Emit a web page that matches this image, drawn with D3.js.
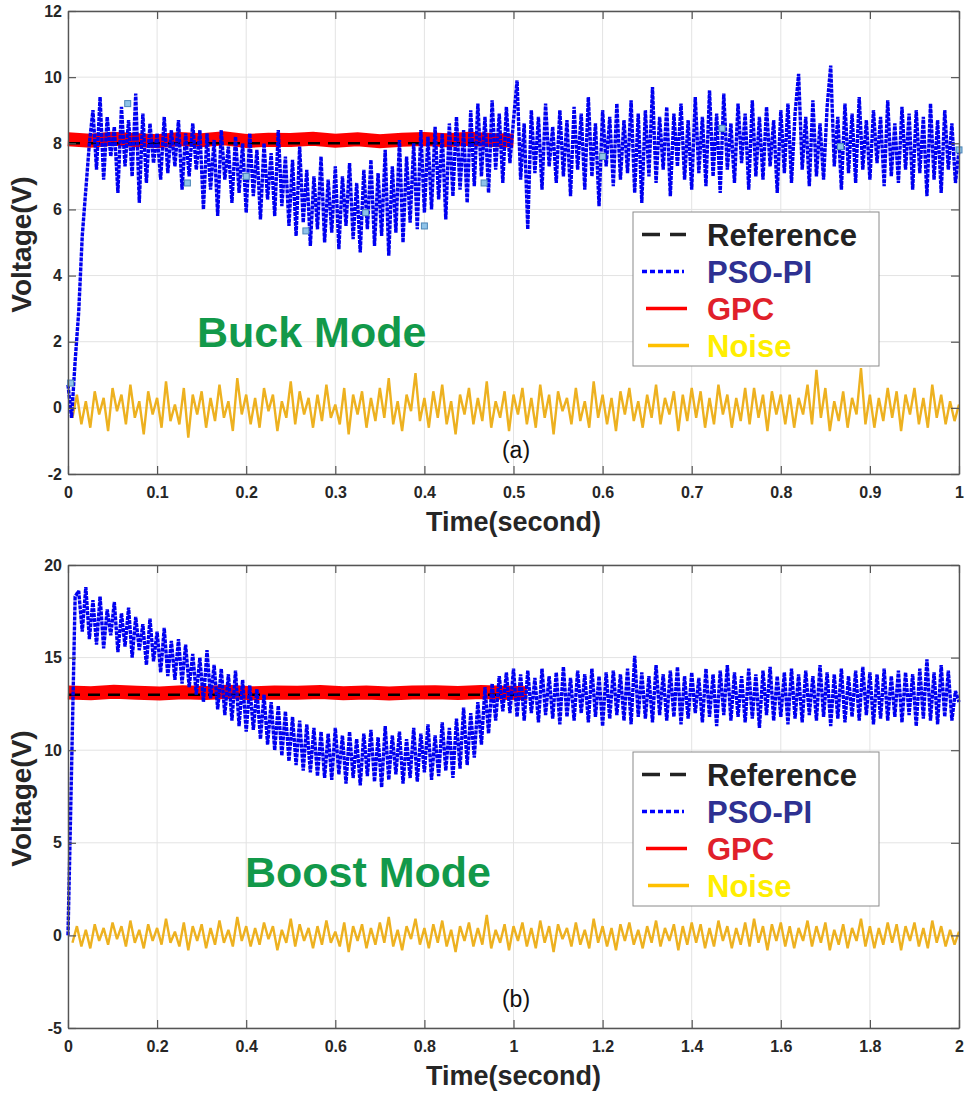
<!DOCTYPE html>
<html>
<head>
<meta charset="utf-8">
<script src="https://cdn.jsdelivr.net/npm/d3@7"></script>
<style>
  body { margin: 0; background: #fff; }
  svg text { font-family: "Liberation Sans", Arial, sans-serif; }
</style>
</head>
<body>
<svg id="chart" width="964" height="1098"></svg>
<script>
// ---------- data ----------
const legendLabels = ['Reference', 'PSO-PI', 'GPC', 'Noise'];

// (a) buck mode, 0..1 s
const xTicksA = [0, 0.1, 0.2, 0.3, 0.4, 0.5, 0.6, 0.7, 0.8, 0.9, 1];
const yTicksA = [-2, 0, 2, 4, 6, 8, 10, 12];
const refValueA = 8;
const refSpanA = [0, 0.47];
const gpcSpanA = [0, 0.5];
const gpcA = [8.12, 8.08, 8.14, 8.1, 8.06, 8.13, 8.09, 8.15, 8.07, 8.11, 8.1, 8.14, 8.08, 8.12, 8.06, 8.11, 8.13, 8.09, 8.14, 8.1, 8.08];
const psoSpanA = [0, 1];
const psoA = [
  0.7, -0.3, 1.4, 2.9, 5.2, 6.6, 8.0,
  9.0, 7.2, 9.4, 6.9, 8.8, 7.6, 8.5, 6.5, 9.1, 7.3, 8.7, 7.0, 9.5, 6.2, 8.9, 6.8, 8.6, 7.4, 8.3, 6.9,
  8.8, 7.1, 8.4, 7.3, 8.7, 6.6, 8.3, 7.0, 8.6, 7.2, 8.4,
  6.0, 8.3, 6.6, 8.1, 5.8, 8.4, 6.9, 7.9, 6.2, 8.2, 6.5, 8.0, 5.9, 8.3, 6.4, 7.8, 5.7, 8.0, 6.3, 7.7,
  5.8, 8.4, 6.1, 7.6, 5.5,
  7.5, 5.2, 7.9, 5.6, 7.2, 4.9, 7.0, 5.4, 7.6, 5.0, 6.9, 5.3, 7.3, 4.8, 7.0, 5.5, 7.4, 5.1, 6.8, 4.7,
  7.2, 5.4, 7.5, 4.9, 7.1, 5.2, 7.8, 4.6, 7.3, 5.3, 8.1, 5.0, 7.6,
  5.6, 8.0, 5.4, 8.4, 5.9, 8.2, 6.0, 8.5, 6.3, 8.3, 5.7, 8.6, 6.4, 8.8, 6.6, 8.4, 6.2,
  9.0, 6.7, 9.2, 7.0, 8.8, 6.5, 9.3, 7.2, 8.9, 6.8, 9.1, 7.4, 8.7,
  9.9, 6.9, 8.6, 5.4, 9.0, 7.1, 8.8, 6.6, 9.2, 7.3, 8.5, 6.8, 9.0, 7.0, 8.7,
  6.4, 9.1, 7.2, 8.9, 6.6, 9.4, 7.0, 8.6, 6.1, 9.0, 7.3, 8.8, 6.7, 9.2, 6.9, 8.7, 7.1, 9.3, 6.5, 8.9,
  6.2, 9.0, 7.0, 9.7, 6.8, 8.8, 7.2, 9.1, 6.4, 8.9, 7.3, 9.2, 6.9, 8.7, 6.6, 9.4, 7.1, 8.8, 6.7, 9.6,
  7.0, 8.9, 6.5, 9.5, 7.2, 8.6, 6.8, 9.2, 7.4, 8.9, 6.6, 9.3, 7.0, 8.8, 6.9, 9.1, 7.3, 8.7, 6.5, 9.0,
  7.1, 9.2, 6.8, 8.9, 10.1, 7.2, 8.8, 6.7, 9.3, 7.0, 8.6, 6.9, 9.1, 10.35, 7.3, 8.8, 6.6, 9.2, 7.1, 8.9,
  6.8, 9.4, 7.2, 8.7, 6.9, 9.0, 7.4, 8.8, 6.7, 9.3, 7.0, 8.6, 6.8, 9.1, 7.2, 8.9, 6.6, 9.0, 7.1, 8.8,
  6.4, 9.2, 6.9, 8.7, 6.5, 9.0, 7.2, 8.6, 6.8, 7.8
];
const markerTimesA = [0.003, 0.067, 0.134, 0.2, 0.267, 0.334, 0.4, 0.467, 0.6, 0.734, 0.867, 1.0];
const markerValuesA = [0.75, 9.2, 6.8, 7.0, 5.35, 5.9, 5.5, 6.8, 7.6, 8.45, 7.9, 7.8];
const noiseSpanA = [0.005, 1];
const noiseA = [
  -0.3, 0.4, -0.5, 0.2, -0.6, 0.5, -0.2, 0.3, -0.7, 0.6, -0.1, 0.4, -0.5, 0.7, -0.3, 0.2, -0.8, 0.5, -0.2, 0.3,
  -0.6, 0.8, -0.4, 0.1, -0.5, 0.6, -0.9, 0.4, -0.2, 0.5, -0.6, 0.3, -0.4, 0.7, -0.3, 0.2, -0.7, 0.9, -0.2, 0.4,
  -0.5, 0.3, -0.6, 0.6, -0.1, 0.4, -0.7, 0.2, -0.3, 0.8, -0.5, 0.5, -0.2, 0.3, -0.6, 0.4, -0.4, 0.7, -0.3, 0.1,
  -0.5, 0.6, -0.8, 0.4, -0.2, 0.5, -0.6, 0.3, -0.4, 0.6, -0.3, 0.9, -0.5, 0.2, -0.7, 0.4, -0.1, 1.05, -0.4, 0.3,
  -0.6, 0.5, -0.3, 0.7, -0.5, 0.2, -0.8, 0.4, -0.2, 0.6, -0.5, 0.3, -0.4, 0.8, -0.6, 0.2, -0.3, 0.5, -0.7, 0.4,
  -0.2, 0.6, -0.5, 0.3, -0.6, 0.7, -0.3, 0.4, -0.8, 0.5, -0.1, 0.3, -0.5, 0.6, -0.4, 0.2, -0.6, 0.8, -0.3, 0.4,
  -0.5, 0.3, -0.7, 0.5, -0.2, 0.6, -0.4, 0.2, -0.6, 0.4, -0.3, 0.7, -0.5, 0.3, -0.2, 0.5, -0.7, 0.4, -0.4, 0.6,
  -0.3, 0.5, -0.6, 0.3, -0.5, 0.7, -0.2, 0.4, -0.6, 0.3, -0.4, 0.6, -0.5, 0.6, -0.3, 0.4, -0.7, 0.5, -0.2, 0.4,
  -0.5, 0.4, -0.6, 0.3, -0.2, 0.7, -0.5, 1.15, -0.3, 0.6, -0.7, 0.2, -0.4, 0.5, -0.6, 0.3, -0.2, 1.2, -0.5, 0.4,
  -0.6, 0.3, -0.4, 0.6, -0.3, 0.5, -0.7, 0.4, -0.2, 0.6, -0.5, 0.3, -0.6, 0.7, -0.3, 0.4, -0.5, 0.2, -0.4, 0.1
];

// (b) boost mode, 0..2 s
const xTicksB = [0, 0.2, 0.4, 0.6, 0.8, 1, 1.2, 1.4, 1.6, 1.8, 2];
const yTicksB = [-5, 0, 5, 10, 15, 20];
const refValueB = 13;
const refSpanB = [0, 1.02];
const gpcSpanB = [0, 1.03];
const gpcB = [13.12, 13.08, 13.15, 13.1, 13.06, 13.13, 13.09, 13.16, 13.07, 13.11, 13.1, 13.14, 13.08, 13.12, 13.06, 13.11, 13.13, 13.09, 13.14, 13.1, 13.08];
const psoSpanB = [0, 2];
const psoB = [
  0, 9, 18.3,
  18.6, 16.4, 18.8, 16.0, 18.1, 15.7,
  18.3, 15.5, 17.6, 16.2, 18.0, 15.3, 17.4, 15.6,
  17.7, 15.0, 17.2, 15.4, 16.8, 14.6, 17.1, 14.8, 16.4, 14.2, 16.6, 14.0, 15.9, 13.8, 16.0,
  13.6, 15.7, 13.4, 15.2, 13.0, 15.0, 12.6, 15.4, 12.8, 14.6, 12.2, 14.4, 11.9, 14.1, 11.6, 14.3, 11.3, 13.8, 11.0, 13.5,
  11.1, 13.3, 10.6, 13.0, 10.3, 12.6, 10.0, 12.4, 9.7, 12.1, 9.4, 11.8, 9.2, 11.6, 8.9, 11.4, 8.8, 11.2, 8.6, 11.0, 8.5,
  10.9, 8.4, 11.2, 8.7, 10.8, 8.2, 11.0, 8.5, 10.6, 8.1, 10.9, 8.6, 11.1, 8.3, 10.7, 8.0, 11.3, 8.4, 10.8, 8.7,
  11.0, 8.2, 10.6, 8.5, 11.2, 8.3, 10.9, 8.8, 11.4, 8.4, 10.8, 8.6, 11.5, 8.9, 11.2, 8.5, 11.7, 9.0, 12.3, 9.2,
  12.0, 9.6, 12.6, 10.3, 13.4, 10.9, 13.6, 11.6, 14.0, 12.1, 14.2, 12.0, 14.4,
  11.8, 14.1, 11.6, 14.3, 12.0, 13.9, 11.5, 14.4, 11.9, 14.0, 11.7, 14.2, 11.4, 14.5, 11.8, 13.9, 11.6, 14.3, 12.0, 14.1,
  11.5, 14.4, 11.8, 14.0, 11.3, 14.2, 11.7, 14.3, 11.9, 14.1, 11.6, 14.4, 11.4, 15.1, 11.8, 14.2, 11.7, 14.0, 11.5, 14.6,
  11.9, 14.1, 11.6, 14.3, 11.8, 14.5, 11.4, 14.0, 11.7, 14.2, 12.0, 13.9, 11.5, 14.4, 11.8, 14.1, 11.3, 14.3, 11.9, 14.6,
  11.6, 14.2, 11.8, 14.0, 11.5, 14.4, 11.7, 14.1, 11.2, 14.3, 11.9, 14.5, 11.6, 14.0, 11.8, 14.2, 11.4, 14.4, 11.7, 14.1,
  11.5, 14.3, 11.9, 14.0, 11.6, 14.6, 11.8, 14.2, 11.3, 14.1, 11.7, 14.4, 11.5, 14.0, 11.8, 14.3, 11.6, 14.5, 11.9, 14.2,
  11.4, 14.1, 11.7, 14.4, 11.6, 14.0, 11.8, 14.3, 11.5, 14.2, 11.9, 14.1, 11.3, 14.4, 11.7, 14.9, 11.6, 14.2, 11.4, 14.6,
  11.8, 14.3, 11.6, 13.2, 12.6
];
const noiseSpanB = [0.01, 2];
const noiseB = [
  -0.4, 0.5, -0.6, 0.3, -0.7, 0.6, -0.3, 0.4, -0.5, 0.7, -0.2, 0.5, -0.6, 0.8, -0.4, 0.3, -0.7, 0.6, -0.3, 0.4,
  -0.5, 0.9, -0.4, 0.2, -0.6, 0.7, -0.8, 0.5, -0.3, 0.6, -0.7, 0.4, -0.5, 0.8, -0.4, 0.3, -0.6, 1.0, -0.3, 0.5,
  -0.6, 0.4, -0.5, 0.7, -0.2, 0.5, -0.8, 0.3, -0.4, 0.9, -0.6, 0.6, -0.3, 0.4, -0.7, 0.5, -0.5, 0.8, -0.4, 0.2,
  -0.6, 0.7, -0.9, 0.5, -0.3, 0.6, -0.7, 0.4, -0.5, 0.7, -0.4, 1.0, -0.6, 0.3, -0.8, 0.5, -0.2, 0.9, -0.5, 0.4,
  -0.7, 0.6, -0.4, 0.8, -0.6, 0.3, -0.9, 0.5, -0.3, 0.7, -0.6, 0.4, -0.5, 1.1, -0.7, 0.3, -0.4, 0.6, -0.8, 0.5,
  -0.3, 0.7, -0.6, 0.4, -0.7, 0.8, -0.4, 0.5, -0.9, 0.6, -0.2, 0.4, -0.6, 0.7, -0.5, 0.3, -0.7, 0.9, -0.4, 0.5,
  -0.6, 0.4, -0.8, 0.6, -0.3, 0.7, -0.5, 0.3, -0.7, 0.5, -0.4, 0.8, -0.6, 0.4, -0.3, 0.6, -0.8, 0.5, -0.5, 0.7,
  -0.4, 0.6, -0.7, 0.4, -0.6, 0.8, -0.3, 0.5, -0.7, 0.4, -0.5, 0.7, -0.6, 0.9, -0.4, 0.5, -0.8, 0.6, -0.3, 0.7,
  -0.6, 0.5, -0.7, 0.4, -0.3, 0.8, -0.6, 0.5, -0.4, 0.7, -0.8, 0.3, -0.5, 0.6, -0.7, 0.4, -0.3, 0.9, -0.6, 0.5,
  -0.7, 0.4, -0.5, 0.7, -0.4, 0.6, -0.8, 0.5, -0.3, 0.7, -0.6, 0.4, -0.7, 0.8, -0.4, 0.5, -0.6, 0.3, -0.5, 0.2
];

// ---------- layout ----------
const panels = [
  {
    top: 11, bottom: 474, xDomain: [0, 1], yDomain: [-2, 12], xTicks: xTicksA, yTicks: yTicksA,
    ref: refValueA, refSpan: refSpanA, gpc: gpcA, gpcSpan: gpcSpanA, pso: psoA, psoSpan: psoSpanA,
    noise: noiseA, noiseSpan: noiseSpanA, markerT: markerTimesA, markerV: markerValuesA,
    mode: 'Buck Mode', modeX: 197, modeY: 347, tag: '(a)', tagY: 458, legendTop: 212
  },
  {
    top: 565, bottom: 1028, xDomain: [0, 2], yDomain: [-5, 20], xTicks: xTicksB, yTicks: yTicksB,
    ref: refValueB, refSpan: refSpanB, gpc: gpcB, gpcSpan: gpcSpanB, pso: psoB, psoSpan: psoSpanB,
    noise: noiseB, noiseSpan: noiseSpanB, markerT: [], markerV: [],
    mode: 'Boost Mode', modeX: 245, modeY: 887, tag: '(b)', tagY: 1007, legendTop: 752
  }
];
const left = 68, right = 959;
const ink = '#262626';

const svg = d3.select('#chart');

panels.forEach(p => drawPanel(p));

function drawPanel(p) {
  const x = d3.scaleLinear().domain(p.xDomain).range([left, right]);
  const y = d3.scaleLinear().domain(p.yDomain).range([p.bottom, p.top]);
  const g = svg.append('g');

  // grid
  g.append('g').selectAll('line').data(p.xTicks).enter().append('line')
    .attr('x1', d => x(d)).attr('x2', d => x(d))
    .attr('y1', p.top).attr('y2', p.bottom)
    .attr('stroke', '#e3e3e3').attr('stroke-width', 1);
  g.append('g').selectAll('line').data(p.yTicks).enter().append('line')
    .attr('x1', left).attr('x2', right)
    .attr('y1', d => y(d)).attr('y2', d => y(d))
    .attr('stroke', '#e3e3e3').attr('stroke-width', 1);

  // series sampled on even time steps
  const series = (values, span) => {
    const t = d3.scaleLinear().domain([0, values.length - 1]).range(span);
    return d3.line().x((d, i) => x(t(i))).y(d => y(d))(values);
  };

  const plot = g.append('g');
  plot.append('path')
    .attr('d', series(p.noise, p.noiseSpan))
    .attr('fill', 'none').attr('stroke', '#EDB120').attr('stroke-width', 2.4)
    .attr('stroke-linejoin', 'bevel');

  plot.append('path')
    .attr('d', series(p.gpc, p.gpcSpan))
    .attr('fill', 'none').attr('stroke', '#ff0000').attr('stroke-width', 14);

  plot.append('path')
    .attr('d', d3.line().x(d => x(d)).y(() => y(p.ref))(p.refSpan))
    .attr('fill', 'none').attr('stroke', '#000').attr('stroke-width', 2.5)
    .attr('stroke-dasharray', '12,8');

  plot.append('path')
    .attr('d', series(p.pso, p.psoSpan))
    .attr('fill', 'none').attr('stroke', '#0000f0').attr('stroke-width', 3.4)
    .attr('stroke-linejoin', 'bevel')
    .attr('stroke-dasharray', '4,1');

  plot.append('g').selectAll('rect').data(p.markerT).enter().append('rect')
    .attr('x', d => x(d) - 3).attr('y', (d, i) => y(p.markerV[i]) - 3)
    .attr('width', 6).attr('height', 6)
    .attr('fill', '#8fc3e8').attr('stroke', '#4d86b8').attr('stroke-width', 1);

  // axes with inward ticks
  const fmt = d => String(d);
  const bottomAxis = g.append('g').attr('transform', `translate(0,${p.bottom})`)
    .call(d3.axisBottom(x).tickValues(p.xTicks).tickFormat(fmt).tickSizeInner(-8).tickSizeOuter(0).tickPadding(13));
  const topAxis = g.append('g').attr('transform', `translate(0,${p.top})`)
    .call(d3.axisTop(x).tickValues(p.xTicks).tickFormat('').tickSizeInner(-8).tickSizeOuter(0));
  const leftAxis = g.append('g').attr('transform', `translate(${left},0)`)
    .call(d3.axisLeft(y).tickValues(p.yTicks).tickFormat(fmt).tickSizeInner(-8).tickSizeOuter(0).tickPadding(6));
  const rightAxis = g.append('g').attr('transform', `translate(${right},0)`)
    .call(d3.axisRight(y).tickValues(p.yTicks).tickFormat('').tickSizeInner(-8).tickSizeOuter(0));

  [bottomAxis, topAxis, leftAxis, rightAxis].forEach(a => {
    a.select('.domain').attr('stroke', '#555').attr('stroke-width', 1.4);
    a.selectAll('.tick line').attr('stroke', '#555').attr('stroke-width', 1.2);
    a.selectAll('.tick text').attr('fill', ink)
      .style('font-size', '16px').style('font-weight', 'bold');
  });

  // axis titles
  g.append('text')
    .text('Time(second)')
    .attr('x', (left + right) / 2).attr('y', p.bottom + 57)
    .attr('text-anchor', 'middle')
    .attr('fill', ink).style('font-size', '27px').style('font-weight', 'bold');
  g.append('text')
    .text('Voltage(V)')
    .attr('transform', `translate(31,${(p.top + p.bottom) / 2 + 2}) rotate(-90)`)
    .attr('text-anchor', 'middle')
    .attr('fill', ink).style('font-size', '28px').style('font-weight', 'bold');

  // mode label and panel tag
  g.append('text')
    .text(p.mode)
    .attr('x', p.modeX).attr('y', p.modeY)
    .attr('fill', '#12994a').style('font-size', '43px').style('font-weight', 'bold');
  g.append('text')
    .text(p.tag)
    .attr('x', 516).attr('y', p.tagY)
    .attr('text-anchor', 'middle')
    .attr('fill', '#111').style('font-size', '23px');

  drawLegend(p.legendTop);
}

function drawLegend(top) {
  const styles = {
    'Reference': { stroke: '#222', dash: '18,10', width: 3.5, text: '#222222', x1: 642, x2: 686 },
    'PSO-PI': { stroke: '#0000ff', dash: '5,3', width: 3.5, text: '#2e3192', x1: 642, x2: 684 },
    'GPC': { stroke: '#ff0000', dash: null, width: 3.5, text: '#e0202a', x1: 646, x2: 687 },
    'Noise': { stroke: '#ffc000', dash: null, width: 3.5, text: '#ffee00', x1: 648, x2: 689 }
  };
  const rowY = d3.scaleBand().domain(legendLabels).range([top + 4, top + 152]);
  const lg = svg.append('g');
  lg.append('rect')
    .attr('x', 633).attr('y', top).attr('width', 246).attr('height', 154)
    .attr('fill', '#fff').attr('stroke', '#8a8a8a').attr('stroke-width', 1);

  const rows = lg.selectAll('g.row').data(legendLabels).enter().append('g')
    .attr('transform', d => `translate(0,${rowY(d) + rowY.bandwidth() / 2})`);
  rows.append('line')
    .attr('x1', d => styles[d].x1).attr('x2', d => styles[d].x2)
    .attr('y1', 0).attr('y2', 0)
    .attr('stroke', d => styles[d].stroke).attr('stroke-width', d => styles[d].width)
    .attr('stroke-dasharray', d => styles[d].dash);
  rows.append('text')
    .text(d => d)
    .attr('x', 707).attr('y', 11)
    .attr('fill', d => styles[d].text)
    .style('font-size', '31px').style('font-weight', 'bold');
}
</script>
</body>
</html>
